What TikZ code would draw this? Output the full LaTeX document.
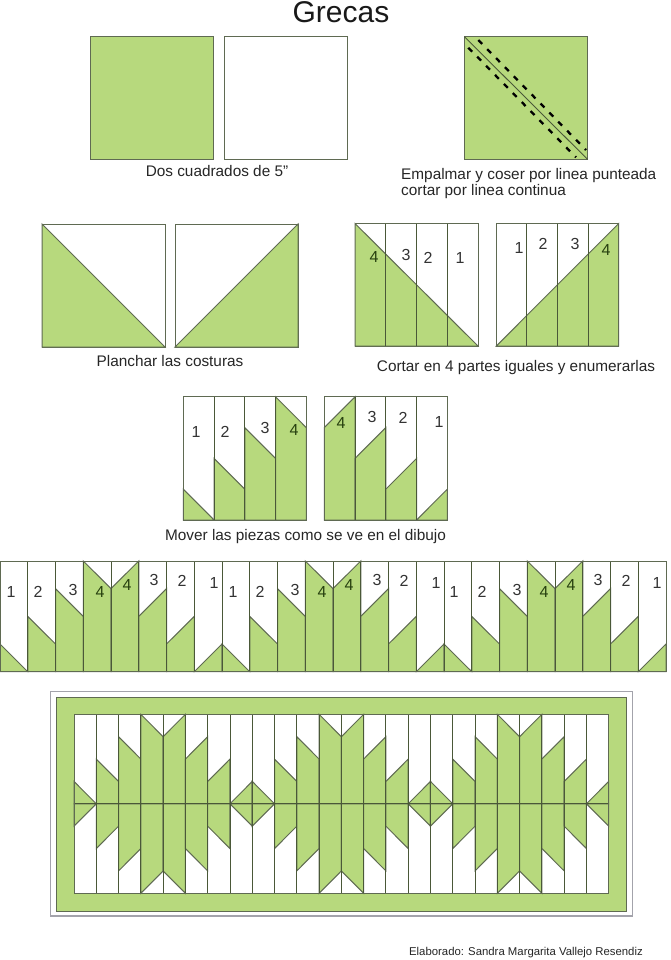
\documentclass[tikz,border=0pt]{standalone}
\usepackage{fontspec}
\setmainfont{Liberation Sans}
\definecolor{leaf}{HTML}{B7D97D}
\definecolor{edgeline}{HTML}{5F6A52}
\definecolor{darkline}{HTML}{4A5838}
\definecolor{inktext}{HTML}{333333}
\definecolor{inkgreen}{HTML}{27400F}
\definecolor{framegrey}{HTML}{A3A3AB}
\tikzset{
  square/.style={draw=edgeline,line width=1pt,fill=white},
  piece/.style={draw=edgeline,line width=1pt,fill=leaf},
  split/.style={draw=darkline,line width=0.9pt},
  caption/.style={inner sep=0pt,font=\fontsize{15.35}{16.6}\selectfont,text=black!85,align=left},
  numlabel/.style={inner sep=0pt,font=\fontsize{16}{16}\selectfont,text=inktext},
  numgreen/.style={inner sep=0pt,font=\fontsize{16}{16}\selectfont,text=inkgreen},
  seam/.style={draw=black,line width=2.3pt,dash pattern=on 5.5pt off 7.2pt}
}
% strips of the pattern 1 2 3 4 4 3 2 1: {indices}{x0}{width}{base y}{step}
\newcommand{\chevrons}[5]{%
  \foreach \i in {#1}{%
    \pgfmathtruncatemacro\m{mod(\i,8)}%
    \pgfmathtruncatemacro\kk{\m<4 ? \m+1 : 8-\m}%
    \pgfmathsetmacro\lv{\m<4 ? \kk : \kk-1}%
    \pgfmathsetmacro\rv{\m<4 ? \kk-1 : \kk}%
    \pgfmathsetmacro\xa{#2+\i*#3}%
    \pgfmathsetmacro\xb{#2+(\i+1)*#3}%
    \pgfmathsetmacro\ya{#4-\lv*#5}%
    \pgfmathsetmacro\yb{#4-\rv*#5}%
    \path[piece] (\xa,#4) -- (\xa,\ya) -- (\xb,\yb) -- (\xb,#4) -- cycle;
  }%
}
\newcommand{\splits}[5]{%
  \foreach \i in {#1}{%
    \pgfmathsetmacro\xa{#2+\i*#3}%
    \draw[split] (\xa,#4) -- (\xa,#5);
  }%
}
\begin{document}
\begin{tikzpicture}[x=1pt,y=-1pt]
\useasboundingbox (0,0) rectangle (671,960);
\fill[white] (0,0) rectangle (671,960);

\node[inner sep=0pt,font=\fontsize{30}{30}\selectfont,text=black!90] (title) at (341,12) {Grecas};

% row 1
\path[piece] (90,37) rectangle (213,160);
\path[square] (224,37) rectangle (347,160);
\node[caption] (cap1) at (217,171) {Dos cuadrados de 5”};
\path[piece] (464.4,36.7) rectangle (587.6,159.4);
\draw[split] (464.4,36.7) -- (587.6,159.4);
\draw[seam] (478.3,40) -- (586,150);
\draw[seam] (468.3,47.7) -- (576,157.3);
\node[caption,anchor=north west] (cap2) at (401,168) {Empalmar y coser por linea punteada\\cortar por linea continua};

% row 2
\path[square] (42,224) rectangle (165,347);
\path[piece] (42,224) -- (165,347) -- (42,347) -- cycle;
\path[square] (175,224) rectangle (298,347);
\path[piece] (298,224) -- (175,347) -- (298,347) -- cycle;
\node[caption] (cap3) at (170,361) {Planchar las costuras};

\path[square] (355,223.5) rectangle (478,346);
\path[piece] (355,223.5) -- (478,346) -- (355,346) -- cycle;
\splits{1,2,3}{355}{30.75}{223.5}{346}
\path[square] (496.3,223.5) rectangle (618.7,346);
\path[piece] (618.7,223.5) -- (496.3,346) -- (618.7,346) -- cycle;
\splits{1,2,3}{496.3}{30.6}{223.5}{346}
\node[numgreen] (a4) at (374,257) {4};
\node[numlabel] (a3) at (406,255) {3};
\node[numlabel] (a2) at (428,258) {2};
\node[numlabel] (a1) at (460,258) {1};
\node[numlabel] (b1) at (519,248) {1};
\node[numlabel] (b2) at (543,244) {2};
\node[numlabel] (b3) at (575,244) {3};
\node[numgreen] (b4) at (606,250) {4};
\node[caption] (cap4) at (516,368) {Cortar en 4 partes iguales y enumerarlas};

% row 3
\path[square] (183.3,396.7) rectangle (306.3,520);
\chevrons{0,1,2,3}{183.3}{30.75}{520}{30.8}
\splits{1,2,3}{183.3}{30.75}{396.7}{520}
\draw[square,fill=none] (183.3,396.7) rectangle (306.3,520);
\path[square] (324.3,396.7) rectangle (447.3,520);
\chevrons{4,5,6,7}{201.3}{30.75}{520}{30.8}
\splits{5,6,7}{201.3}{30.75}{396.7}{520}
\draw[square,fill=none] (324.3,396.7) rectangle (447.3,520);
\node[numlabel] (c1) at (196,432) {1};
\node[numlabel] (c2) at (225,432) {2};
\node[numlabel] (c3) at (265,428) {3};
\node[numgreen] (c4) at (294,430) {4};
\node[numgreen] (d4) at (341,423) {4};
\node[numlabel] (d3) at (372,417) {3};
\node[numlabel] (d2) at (403,418) {2};
\node[numlabel] (d1) at (439,422) {1};
\node[caption] (cap5) at (305.5,537) {Mover las piezas como se ve en el dibujo};

% row 4
\path[square] (0,561) rectangle (666,671.7);
\chevrons{0,...,23}{0}{27.75}{671.7}{27.68}
\splits{1,...,23}{0}{27.75}{561}{671.7}
\draw[square,fill=none] (0,561) rectangle (666,671.7);
\foreach \n/\lx/\ly/\st [count=\c] in {
  1/11/592/numlabel,2/38/592/numlabel,3/73/590/numlabel,4/100/592/numgreen,
  4/127/585/numgreen,3/154/580/numlabel,2/182/581/numlabel,1/214/583/numlabel,
  1/233/592/numlabel,2/260/592/numlabel,3/295/590/numlabel,4/322/592/numgreen,
  4/349/585/numgreen,3/377/580/numlabel,2/404/581/numlabel,1/436/583/numlabel,
  1/454/592/numlabel,2/482/592/numlabel,3/517/590/numlabel,4/544/592/numgreen,
  4/571/585/numgreen,3/598/580/numlabel,2/626/581/numlabel,1/657/583/numlabel}{
  \node[\st] (e\c) at (\lx,\ly) {\n};
}

% finished panel
\draw[framegrey,line width=1.3pt] (50.7,691.7) rectangle (632.3,916);
\path[piece] (56,697.3) rectangle (626.7,911);
\path[square] (74,714.3) rectangle (608.7,893.3);
\chevrons{0,...,23}{74}{22.28}{803.8}{22.37}
\chevrons{0,...,23}{74}{22.28}{803.8}{-22.37}
\splits{1,...,23}{74}{22.28}{714.3}{893.3}
\draw[split] (74,803.8) -- (608.7,803.8);
\draw[square,fill=none] (74,714.3) rectangle (608.7,893.3);

\node[inner sep=0pt,anchor=east,font=\fontsize{11.35}{13}\selectfont,text=black!85] (credit) at (643,952.5) {Elaborado: Sandra Margarita Vallejo Resendiz};
\end{tikzpicture}
\end{document}
